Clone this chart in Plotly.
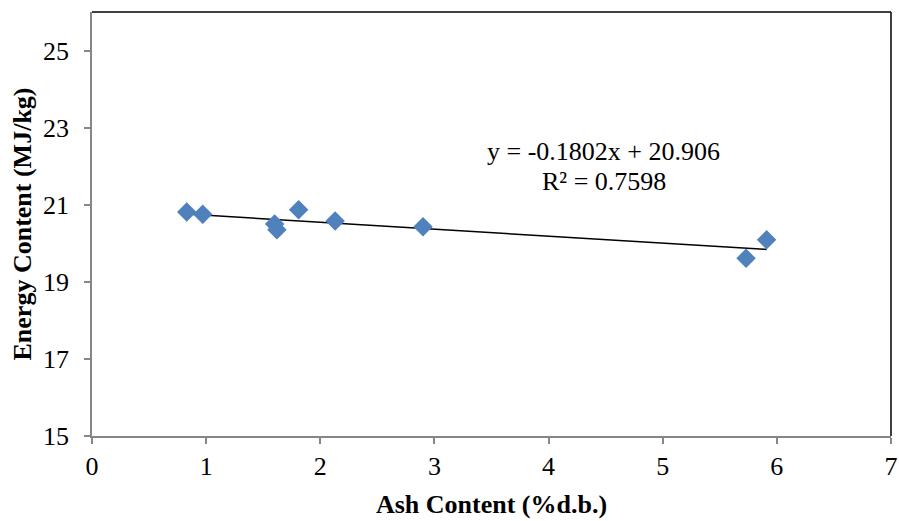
import numpy as np
import plotly.graph_objects as go

# Ash content (% dry basis) and energy content (MJ/kg) of the samples
ash_content = [0.83, 0.97, 1.60, 1.62, 1.81, 2.13, 2.90, 5.73, 5.91]
energy_content = [20.81, 20.75, 20.50, 20.35, 20.87, 20.58, 20.43, 19.61, 20.09]

# Linear trendline parameters
slope = -0.1802
intercept = 20.906
r_squared = 0.7598

x_ticks = [0, 1, 2, 3, 4, 5, 6, 7]
y_ticks = [15, 17, 19, 21, 23, 25]

FONT = "Liberation Serif, Times New Roman, serif"
AXIS_GREY = "#868686"
FS = 26

trend_x = np.array([min(ash_content), max(ash_content)])
trend_y = slope * trend_x + intercept

fig = go.Figure()
fig.add_trace(go.Scatter(
    x=trend_x, y=trend_y, mode="lines",
    line=dict(color="black", width=1.5),
    showlegend=False, hoverinfo="skip",
))
fig.add_trace(go.Scatter(
    x=ash_content, y=energy_content, mode="markers",
    marker=dict(symbol="diamond", size=15, color="#4F81BD",
                line=dict(width=0)),
    showlegend=False,
))

fig.add_annotation(x=4.485, y=22.38, xref="x", yref="y",
                   text=f"y = {slope:.4f}x + {intercept:.3f}",
                   showarrow=False, font=dict(family=FONT, size=FS, color="black"))
fig.add_annotation(x=4.485, y=21.6, xref="x", yref="y",
                   text=f"R² = {r_squared:.4f}",
                   showarrow=False, font=dict(family=FONT, size=FS, color="black"))

# black top/right frame
fig.add_shape(type="line", xref="paper", yref="paper", x0=0, x1=1, y0=1, y1=1,
              line=dict(color="black", width=1.5))
fig.add_shape(type="line", xref="paper", yref="paper", x0=1, x1=1, y0=0, y1=1,
              line=dict(color="black", width=1.5))

fig.update_xaxes(
    range=[0, 7], tickvals=x_ticks, ticktext=[str(v) for v in x_ticks],
    showgrid=False, zeroline=False, showline=True, linecolor=AXIS_GREY, linewidth=1.5,
    ticks="outside", ticklen=6, tickcolor=AXIS_GREY, tickwidth=1.5,
    tickfont=dict(family=FONT, size=FS, color="black"), automargin=False,
    title=dict(text="<b>Ash Content (%d.b.)</b>", standoff=15,
               font=dict(family=FONT, size=FS, color="black")),
)
fig.update_yaxes(
    range=[15, 26], tickvals=y_ticks, ticktext=[str(v) for v in y_ticks],
    showgrid=False, zeroline=False, showline=True, linecolor=AXIS_GREY, linewidth=1.5,
    ticks="outside", ticklen=6, tickcolor=AXIS_GREY, tickwidth=1.5,
    ticklabelstandoff=10,
    tickfont=dict(family=FONT, size=FS, color="black"), automargin=False,
    title=dict(text="<b>Energy Content (MJ/kg)</b>", standoff=4,
               font=dict(family=FONT, size=FS, color="black")),
)

fig.update_layout(
    width=899, height=521,
    margin=dict(l=92, r=8, t=12, b=85),
    paper_bgcolor="white", plot_bgcolor="white",
)

fig.write_html("out.html")
